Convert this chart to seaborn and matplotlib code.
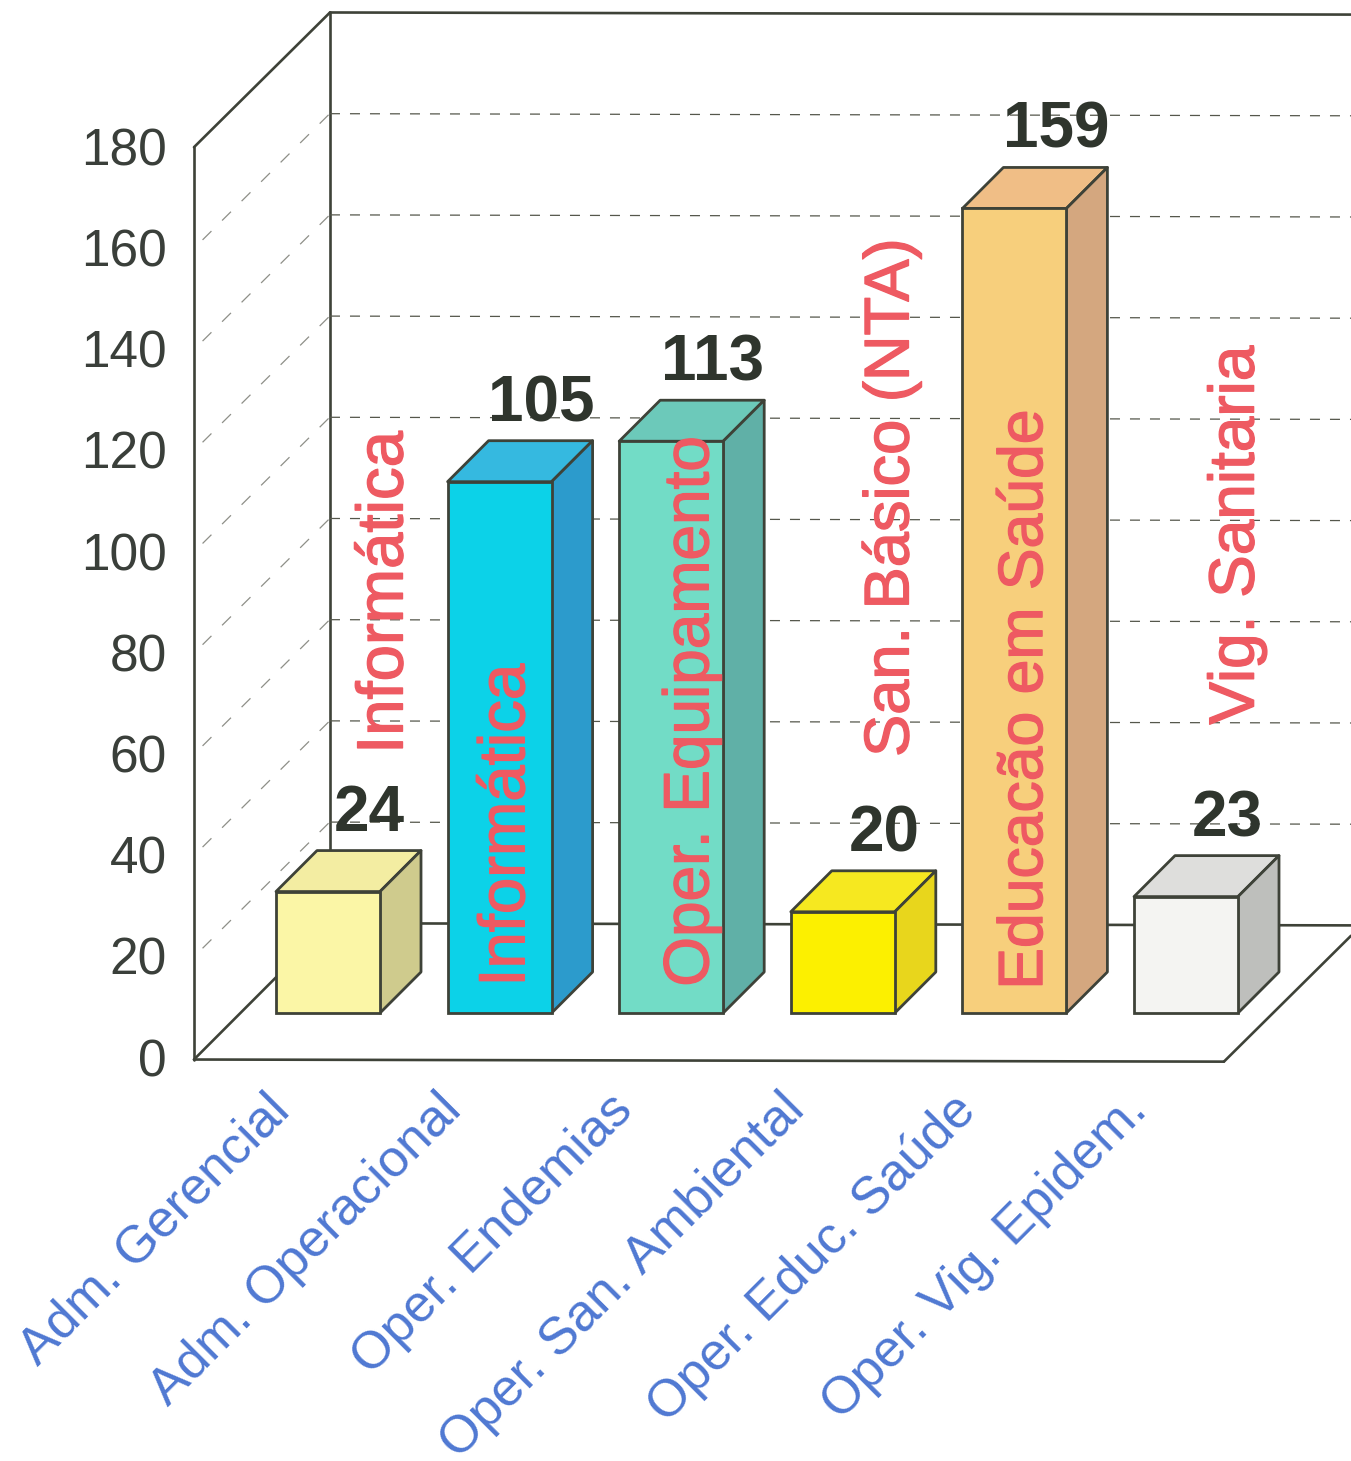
import pandas as pd
import seaborn as sns
import matplotlib.pyplot as plt
import matplotlib.patheffects as pe

# values
categories = ["Adm. Gerencial", "Adm. Operacional", "Oper. Endemias",
              "Oper. San. Ambiental", "Oper. Educ. Saúde", "Oper. Vig. Epidem."]
values = [24, 105, 113, 20, 159, 23]
y_ticks = [0, 20, 40, 60, 80, 100, 120, 140, 160, 180]
notes = ["Informática", "Informática", "Oper. Equipamento",
         "San. Básico (NTA)", "Educacão em Saúde", "Vig. Sanitaria"]

front_colors = ["#FBF6A6", "#0CD2E8", "#72DCC6", "#FCF000", "#F7CF7C", "#F4F4F2"]
top_colors = ["#F3EDA2", "#35B9E0", "#6CC9BA", "#F6E820", "#F0BE86", "#DEDEDC"]
side_colors = ["#CFCB8D", "#2C9BCC", "#60B0A7", "#E8D61C", "#D4A77F", "#BEBFBC"]

LINE = "#3E4238"
PX_X = 171.6  # pixels per category
PX_Y = 5.06  # pixels per unit

# bar depth and wall depth, in axis units
bar_dx, bar_dy = 41 / PX_X, 41 / PX_Y
wall_dx, wall_dy = 136 / PX_X, 135 / PX_Y
floor_y = -45 / PX_Y
left_x, right_x = -0.781, 5.221

sns.set_style("white")
plt.rcParams['font.family'] = ['Liberation Sans', 'DejaVu Sans']

fig = plt.figure(figsize=(13.51, 14.61), dpi=100)
ax = fig.add_axes([0, 0, 1, 1])

df = pd.DataFrame({"cargo": categories, "total": values})
sns.barplot(data=df, x="cargo", y="total", hue="cargo", palette=front_colors,
            width=104 / PX_X, saturation=1, edgecolor=LINE, linewidth=2.0,
            legend=False, zorder=3, ax=ax)

ax.set_xlim(-328 / PX_X, (1351 - 328) / PX_X)
ax.set_ylim(-(1461 - 1013) / PX_Y, 1013 / PX_Y)
ax.axis("off")


def wall_line(xs, ys, **kw):
    # the scan is very slightly tilted, about 2 px over the width
    ys = [y - 0.07 * (x - left_x) for x, y in zip(xs, ys)]
    ax.plot(xs, ys, solid_capstyle="round", **kw)


frame = dict(color=LINE, lw=1.9, zorder=1)
end_x = ax.get_xlim()[1]
top = y_ticks[-1] + floor_y
back_x = left_x + wall_dx
base = floor_y - 0.3

# frame of the walls and floor
wall_line([left_x, left_x], [base, top], **frame)
wall_line([left_x, back_x], [top, top + wall_dy], **frame)
wall_line([back_x, back_x], [floor_y + wall_dy, top + wall_dy], **frame)
wall_line([back_x, end_x], [top + wall_dy, top + wall_dy], **frame)
wall_line([left_x, back_x], [base, floor_y + wall_dy], **frame)
wall_line([back_x, end_x], [floor_y + wall_dy, floor_y + wall_dy], **frame)
wall_line([left_x, right_x], [base, base], **frame)
wall_line([right_x, end_x], [base, base + (end_x - right_x) * wall_dy / wall_dx], **frame)

# gridlines, on the back wall and on the left wall
for tick in y_ticks[1:-1]:
    y = tick + floor_y
    ax.plot([left_x + 0.05, back_x], [y + 0.05 * wall_dy / wall_dx, y + wall_dy],
            color="#8E8F88", lw=0.9, dashes=(10, 12), zorder=1)
    wall_line([back_x, end_x], [y + wall_dy, y + wall_dy],
              color="#55574C", lw=0.9, dashes=(8, 8), zorder=1)

# sides and tops of the bars
for bar, value, top_c, side_c in zip(ax.patches, values, top_colors, side_colors):
    x0 = bar.get_x()
    x1 = x0 + bar.get_width()
    ax.fill([x0, x1, x1 + bar_dx, x0 + bar_dx], [value, value, value + bar_dy, value + bar_dy],
            facecolor=top_c, edgecolor=LINE, lw=2.0, joinstyle="round", zorder=2)
    ax.fill([x1, x1 + bar_dx, x1 + bar_dx, x1], [0, bar_dy, value + bar_dy, value],
            facecolor=side_c, edgecolor=LINE, lw=2.0, joinstyle="round", zorder=2)
    ax.text(x1 - 0.18 + bar_dx / 2, value + bar_dy + 1.3, str(value), fontsize=46, fontweight="bold",
            color="#2F352D", ha="center", va="bottom", zorder=5)

# y tick labels on the front edge of the left wall
for tick in y_ticks:
    ax.text(left_x - 0.16, tick + floor_y - 0.9, str(tick), fontsize=37, color="#3A3F3A",
            ha="right", va="center", zorder=5)

# category labels
for i, label in enumerate(categories):
    ax.text(i - 0.37, -14.3, label, fontsize=37.5, color="#4F78D2", rotation=45,
            rotation_mode="anchor", ha="right", va="top", zorder=5)

# notes written up the bars
note_x = [0.335, 1.045, 2.117, 3.285, 4.065, 5.295]
note_y = [51.2, 5.2, 5.2, 50.6, 4.6, 57]
note_size = [47, 47, 46, 45.5, 45, 46]
for x, y, size, note in zip(note_x, note_y, note_size, notes):
    ax.text(x, y, note, fontsize=size, color="#EE5A62", rotation=90, ha="center", va="bottom",
            zorder=6, path_effects=[pe.withStroke(linewidth=1.0, foreground="#EE5A62")])

fig.savefig("out.png", dpi=100)
